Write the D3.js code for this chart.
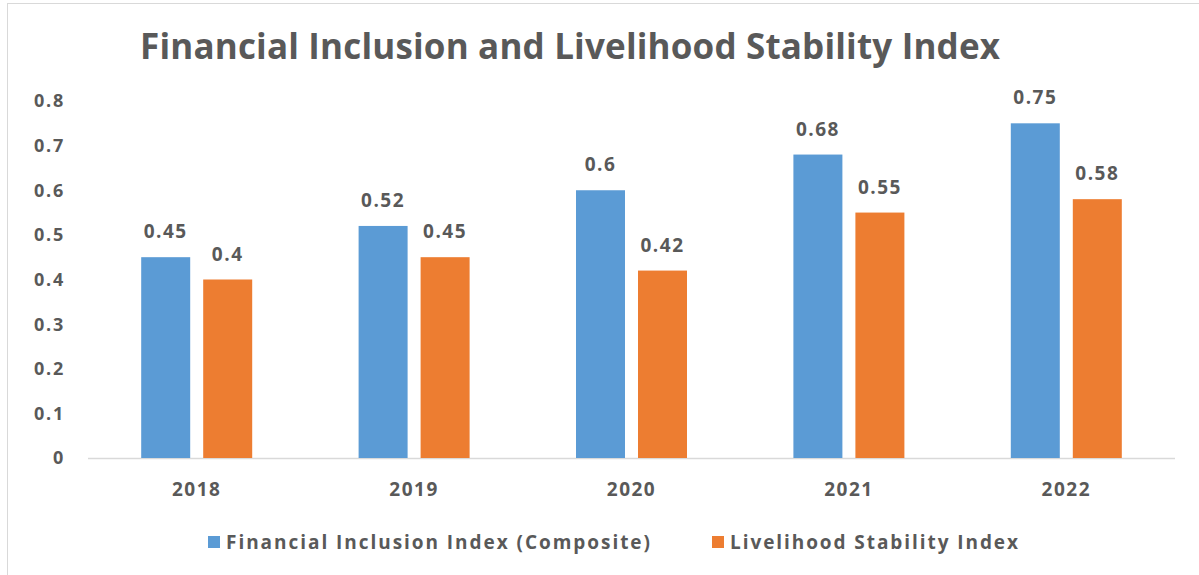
<!DOCTYPE html>
<html>
<head>
<meta charset="utf-8">
<script src="https://cdn.jsdelivr.net/npm/d3@7"></script>
<style>
  body { margin: 0; background: #fff; }
  text { font-family: "Open Sans", sans-serif; font-weight: bold; fill: #595959; }
</style>
</head>
<body>
<div id="chart"></div>
<script>
// data
years = ["2018", "2019", "2020", "2021", "2022"];
inclusion = [0.45, 0.52, 0.6, 0.68, 0.75];
livelihood = [0.4, 0.45, 0.42, 0.55, 0.58];
seriesNames = ["Financial Inclusion Index (Composite)", "Livelihood Stability Index"];
seriesColors = ["#5B9BD5", "#ED7D31"];
yTicks = [0, 0.1, 0.2, 0.3, 0.4, 0.5, 0.6, 0.7, 0.8];

width = 1199;
height = 575;

plotLeft = 88;
plotRight = 1175;
plotTop = 101;
plotBottom = 458;

svg = d3.select("#chart").append("svg")
    .attr("width", width)
    .attr("height", height);

// outer frame (right/bottom edges run off the picture)
svg.append("rect")
    .attr("x", 7.5).attr("y", 3.5)
    .attr("width", 1300).attr("height", 700)
    .attr("fill", "none")
    .attr("stroke", "#d9d9d9");

/* Scales */
xScale = d3.scaleBand().domain(years).range([plotLeft, plotRight]);
yScale = d3.scaleLinear().domain([0, 0.8]).range([plotBottom, plotTop]);

barW = 49;
gap = 13;

svg.append("text")
    .attr("x", 570)
    .attr("y", 59)
    .attr("text-anchor", "middle")
    .attr("textLength", 860)
    .attr("lengthAdjust", "spacing")
    .style("font-size", "35px")
    .text("Financial Inclusion and Livelihood Stability Index");

// y tick labels (no axis line in the original)
svg.selectAll(".ytick")
    .data(yTicks).enter()
    .append("text")
    .attr("class", "ytick")
    .attr("x", 65)
    .attr("y", d => yScale(d))
    .attr("dy", "0.36em")
    .attr("text-anchor", "end")
    .style("font-size", "18px")
    .style("letter-spacing", "1.8px")
    .text(d => d3.format("")(d));

// baseline
svg.append("line")
    .attr("x1", plotLeft).attr("x2", plotRight)
    .attr("y1", plotBottom + 0.5).attr("y2", plotBottom + 0.5)
    .attr("stroke", "#d9d9d9")
    .attr("stroke-width", 1.5);

series = [inclusion, livelihood];

series.forEach(function (vals, s) {
    groups = svg.append("g").attr("class", "series-" + s);
    groups.selectAll("rect")
        .data(vals).enter()
        .append("rect")
        .attr("x", (d, i) => xScale(years[i]) + xScale.bandwidth() / 2 + (s == 0 ? -gap / 2 - barW : gap / 2))
        .attr("y", d => yScale(d))
        .attr("width", barW)
        .attr("height", d => plotBottom - yScale(d))
        .attr("fill", seriesColors[s]);

    groups.selectAll("text")
        .data(vals).enter()
        .append("text")
        .attr("x", (d, i) => xScale(years[i]) + xScale.bandwidth() / 2 + (s == 0 ? -gap / 2 - barW / 2 : gap / 2 + barW / 2))
        .attr("y", d => yScale(d) - 19)
        .attr("text-anchor", "middle")
        .style("font-size", "19px")
        .style("letter-spacing", "1.5px")
        .text(d => d);
});

// x labels
svg.selectAll(".xlab")
    .data(years).enter()
    .append("text")
    .attr("class", "xlab")
    .attr("x", d => xScale(d) + xScale.bandwidth() / 2)
    .attr("y", 496)
    .attr("text-anchor", "middle")
    .style("font-size", "19px")
    .style("letter-spacing", "1.5px")
    .text(d => d);

// legend
legendX = [208, 712];
legendLen = [424, 288];
legend = svg.selectAll(".legend")
    .data(seriesNames).enter()
    .append("g")
    .attr("class", "legend")
    .attr("transform", (d, i) => `translate(${legendX[i]}, 542)`);

legend.append("rect")
    .attr("x", 0).attr("y", -6)
    .attr("width", 12).attr("height", 12)
    .attr("fill", (d, i) => seriesColors[i]);

legend.append("text")
    .attr("x", 18)
    .attr("dy", "0.36em")
    .attr("textLength", (d, i) => legendLen[i])
    .attr("lengthAdjust", "spacing")
    .style("font-size", "19px")
    .text(d => d);
</script>
</body>
</html>
